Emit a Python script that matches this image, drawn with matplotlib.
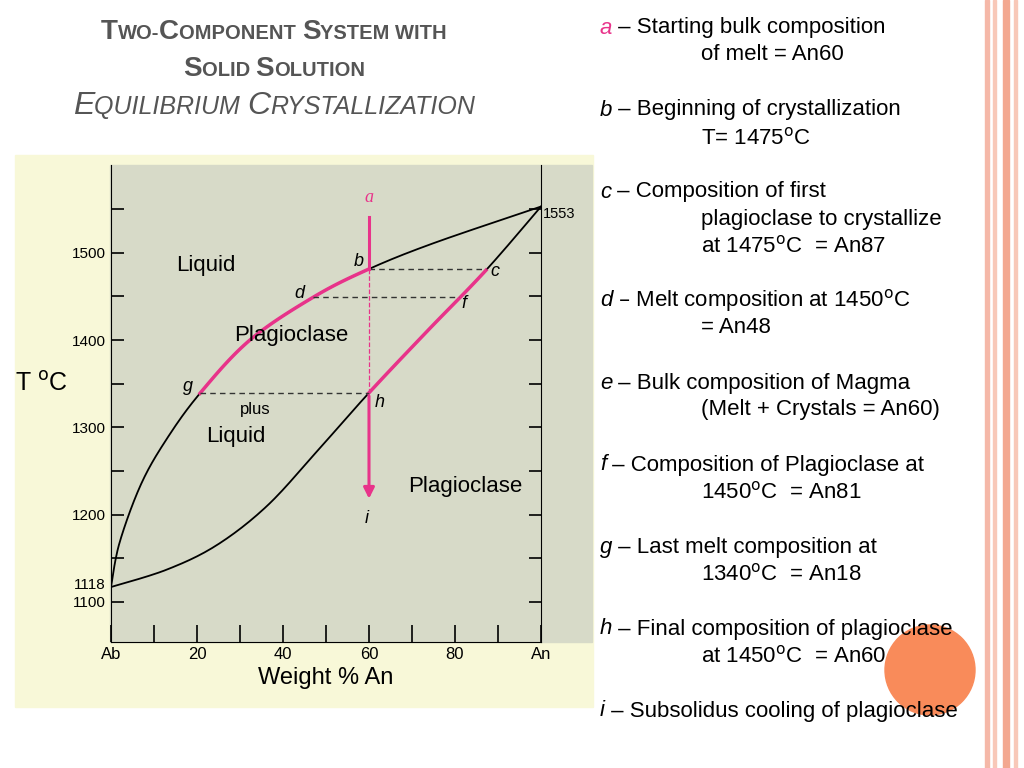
import matplotlib
matplotlib.use("Agg")
import matplotlib.pyplot as plt
import numpy as np
from matplotlib.patches import Rectangle, Ellipse
from matplotlib.offsetbox import TextArea, HPacker, AnchoredOffsetbox
from matplotlib.text import Annotation

plt.rcParams['font.family'] = ['Liberation Sans', 'DejaVu Sans']

liq_x = [0, 2, 7, 13, 20.7, 32.3, 47, 59.8, 75, 100]
liq_T = [1117, 1168, 1235, 1287, 1339, 1400, 1449, 1481, 1511, 1553]
sol_x = [0, 13, 24.6, 36.3, 48, 59.9, 73.5, 87.2, 100]
sol_T = [1117, 1137, 1165, 1210, 1273, 1339, 1410, 1480, 1553]
xticks = [0, 20, 40, 60, 80, 100]
xticklabels = ["Ab", "20", "40", "60", "80", "An"]
yticks = [1100, 1200, 1300, 1400, 1500]

fig = plt.figure(figsize=(10.24, 7.68), dpi=100)
fig.patch.set_facecolor("white")
pink = "#e8338a"

fig.patches.append(Rectangle((15/1024, 1-707/768), 578/1024, 552/768, transform=fig.transFigure, color="#f8f8d8", zorder=0))
fig.patches.append(Rectangle((110/1024, 1-642/768), 482/1024, 477/768, transform=fig.transFigure, color="#d7dac8", zorder=0))
for x0, w, c in [(985, 4, "#f5b8a8"), (993, 3, "#f8c8b8"), (1003, 6, "#f3a890"), (1014, 3, "#f8c8b8")]:
    fig.patches.append(Rectangle((x0/1024, 0), w/1024, 1, transform=fig.transFigure, color=c, zorder=0))
fig.patches.append(Ellipse((930/1024, 1-670/768), 90/1024, 90/768, transform=fig.transFigure, color="#f98b5a", zorder=0))

ax = fig.add_axes([111/1024, 1-642/768, 430/1024, 477/768])
ax.set_zorder(3)
ax.patch.set_visible(False)
ax.set_xlim(0, 100)
ax.set_ylim(1054, 1600.6)
ax.spines["top"].set_visible(False)
ax.set_xticks(xticks)
ax.set_xticklabels(xticklabels, fontsize=12)
ax.set_xticks(np.arange(10, 100, 20), minor=True)
ax.set_yticks(yticks)
ax.set_yticklabels([str(t) for t in yticks], fontsize=11)
ax.set_yticks([1150, 1250, 1350, 1450, 1550], minor=True)
ax.tick_params(direction="in", length=12, right=True, width=1.2)
ax.tick_params(which="minor", direction="in", length=12, right=True, width=1.2)
ax.tick_params(axis="y", length=9)
ax.tick_params(axis="y", which="minor", length=9)
ax.text(-1.2, 1119, "1118", ha="right", va="center", fontsize=11)
ax.text(100.5, 1545, "1553", ha="left", va="center", fontsize=10.5)
ax.set_xlabel("Weight % An", fontsize=17, labelpad=4)
ax.text(-10, 1350, "T $^{\\rm o}$C", fontsize=18, ha="right", va="center")

def smooth(xs, ys, n=20):
    # Catmull-Rom rendering through the read points
    P = np.column_stack([xs, ys]).astype(float)
    P = np.vstack([P[0], P, P[-1]])
    out = []
    for i in range(1, len(P) - 2):
        p0, p1, p2, p3 = P[i-1], P[i], P[i+1], P[i+2]
        for t in np.linspace(0, 1, n, endpoint=False):
            t2, t3 = t*t, t*t*t
            out.append(0.5*((2*p1) + (-p0+p2)*t + (2*p0-5*p1+4*p2-p3)*t2 + (-p0+3*p1-3*p2+p3)*t3))
    out.append(P[-2])
    out = np.array(out)
    return out[:, 0], out[:, 1]

lx, lt = smooth(liq_x, liq_T)
sx, st = smooth(sol_x, sol_T)
ax.plot(lx, lt, color="black", lw=1.3)
ax.plot(sx, st, color="black", lw=1.3)
m = (lx >= 20.7) & (lx <= 60)
ax.plot(lx[m], lt[m], color=pink, lw=2.5)
m = (sx >= 59.9) & (sx <= 87.5)
ax.plot(sx[m], st[m], color=pink, lw=2.5)

ax.plot([60, 87.2], [1481, 1481], "--", color="#333333", lw=1, dashes=(4, 3))
ax.plot([47, 81], [1449, 1449], "--", color="#333333", lw=1, dashes=(4, 3))
ax.plot([20.7, 60], [1339, 1339], "--", color="#333333", lw=1, dashes=(4, 3))
ax.plot([60, 60], [1339, 1481], "--", color=pink, lw=0.9)
ax.plot([60, 60], [1481, 1541], color=pink, lw=2.2)
ax.annotate("", xy=(60, 1215), xytext=(60, 1339), arrowprops=dict(arrowstyle="-|>", color=pink, lw=2.2, mutation_scale=16))

def lab(x, y, s, c="black", fam="Liberation Sans"):
    ax.text(x, y, s, fontsize=13, style="italic", color=c, ha="center", va="center", family=fam)
lab(60, 1563, "a", pink, "Liberation Serif")
lab(57.5, 1490, "b")
lab(89.2, 1478, "c")
lab(43.8, 1453, "d")
lab(82, 1442, "f")
lab(17.8, 1347, "g")
lab(62.5, 1329, "h")
lab(59.5, 1196, "i")
ax.text(22, 1486, "Liquid", fontsize=16, ha="center", va="center")
ax.text(42, 1405, "Plagioclase", fontsize=16, ha="center", va="center")
ax.text(33.5, 1320, "plus", fontsize=12, ha="center", va="center")
ax.text(29, 1289, "Liquid", fontsize=16, ha="center", va="center")
ax.text(82.5, 1232, "Plagioclase", fontsize=16, ha="center", va="center")

tc = "#555555"
def sc(y, parts, italic=False):
    boxes = [TextArea(t, textprops=dict(fontsize=fs, color=tc, style="italic" if italic else "normal",
                                        fontweight="normal" if italic else "bold")) for t, fs in parts]
    pk = HPacker(children=boxes, align="baseline", pad=0, sep=0)
    ab = AnchoredOffsetbox(loc="center", child=pk, frameon=False, bbox_to_anchor=(274/1024, 1-y/768), bbox_transform=fig.transFigure, pad=0, borderpad=0)
    fig.add_artist(ab)
sc(32, [("T", 20), ("WO-", 14.5), ("C", 20), ("OMPONENT ", 14.5), ("S", 20), ("YSTEM WITH", 14.5)])
sc(69, [("S", 20), ("OLID ", 14.5), ("S", 20), ("OLUTION", 14.5)])
sc(106, [("E", 23), ("QUILIBRIUM ", 18), ("C", 23), ("RYSTALLIZATION", 18)], italic=True)

items = [
    (28, "a", " – Starting bulk composition", pink),
    (55, None, "of melt = An60", None),
    (110, "b", " – Beginning of crystallization", None),
    (138, None, "T= 1475$^{\\rm o}$C", None),
    (192, "c", " – Composition of first", None),
    (219, None, "plagioclase to crystallize", None),
    (246, None, "at 1475$^{\\rm o}$C  = An87", None),
    (301, "d", " – Melt composition at 1450$^{\\rm o}$C", None),
    (328, None, "= An48", None),
    (383, "e", " – Bulk composition of Magma", None),
    (410, None, "(Melt + Crystals = An60)", None),
    (465, "f", " – Composition of Plagioclase at", None),
    (492, None, "1450$^{\\rm o}$C  = An81", None),
    (547, "g", " – Last melt composition at", None),
    (574, None, "1340$^{\\rm o}$C  = An18", None),
    (629, "h", " – Final composition of plagioclase", None),
    (656, None, "at 1450$^{\\rm o}$C  = An60", None),
    (711, "i", " – Subsolidus cooling of plagioclase", None),
]
for y, letter, txt, col in items:
    if letter:
        t = fig.text(600/1024, 1-y/768, letter, fontsize=16, style="italic", color=col or "black", va="center")
        fig.add_artist(Annotation(txt, xy=(1, 0.5), xycoords=t, va="center", ha="left", fontsize=16))
    else:
        fig.text(701/1024, 1-y/768, txt, fontsize=16, va="center")

fig.savefig("out.png", dpi=100)
